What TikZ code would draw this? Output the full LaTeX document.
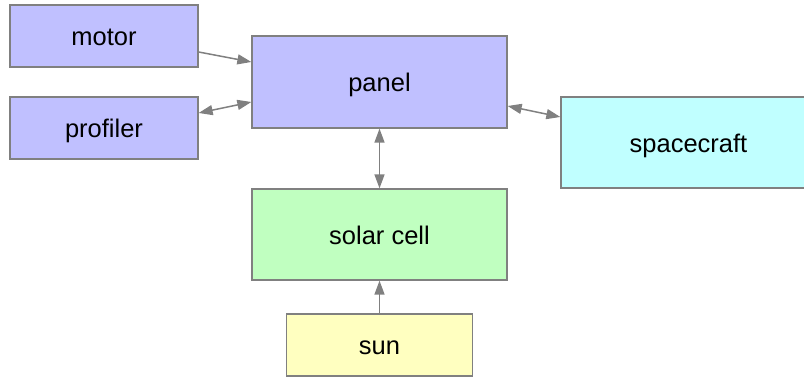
\documentclass[tikz,border=0pt]{standalone}
\usepackage{fontspec}
\setmainfont{Liberation Sans}
\usetikzlibrary{arrows.meta}
\definecolor{edgegray}{HTML}{808080}
\definecolor{fillblue}{HTML}{C0C0FF}
\definecolor{fillcyan}{HTML}{C0FFFF}
\definecolor{fillgreen}{HTML}{C0FFC0}
\definecolor{fillyellow}{HTML}{FFFFC0}
\tikzset{
  boxtext/.style={font=\fontsize{25.5}{30}\selectfont, text=black,
    text height=19.6pt, text depth=0pt, inner sep=0pt},
  block/.style={boxtext, draw=edgegray, line width=1.3pt},
  link/.style={draw=edgegray, line width=1.5pt,
    arrows={-Triangle[length=14pt,width=10pt]}},
  duallink/.style={link, arrows={Triangle[length=14pt,width=10pt]-Triangle[length=14pt,width=10pt]}}
}
\begin{document}
\begin{tikzpicture}[x=1pt,y=-1pt]
  \useasboundingbox (0,0) rectangle (804,379);
  \node[block, fill=fillblue, minimum width=188pt, minimum height=62pt] (motor) at (104,36) {motor};
  \node[block, fill=fillblue, minimum width=188pt, minimum height=62pt] (profiler) at (104,128) {profiler};
  \node[block, fill=fillblue, minimum width=255pt, minimum height=92pt] (panel) at (379.5,82) {panel};
  % the spacecraft box runs past the right edge of the page; its label sits left of the box centre
  \node[block, fill=fillcyan, minimum width=247pt, minimum height=91pt] (spacecraft) at (684.5,142.5) {};
  \node[boxtext] (spacecraftlabel) at (688.5,142.5) {spacecraft};
  \node[block, fill=fillgreen, minimum width=255pt, minimum height=91pt] (solar) at (379.5,234.5) {solar cell};
  \node[block, fill=fillyellow, minimum width=186pt, minimum height=62pt] (sun) at (379.5,345) {sun};

  \draw[link] ([yshift=-16pt]motor.east) -- ([yshift=20pt]panel.west);
  \draw[duallink] ([yshift=15pt]profiler.east) -- ([yshift=-20pt]panel.west);
  \draw[duallink] ([yshift=-24pt]panel.east) -- ([yshift=25.5pt]spacecraft.west);
  \draw[duallink] (panel.south) -- (solar.north);
  \draw[link] (sun.north) -- (solar.south);
\end{tikzpicture}
\end{document}
